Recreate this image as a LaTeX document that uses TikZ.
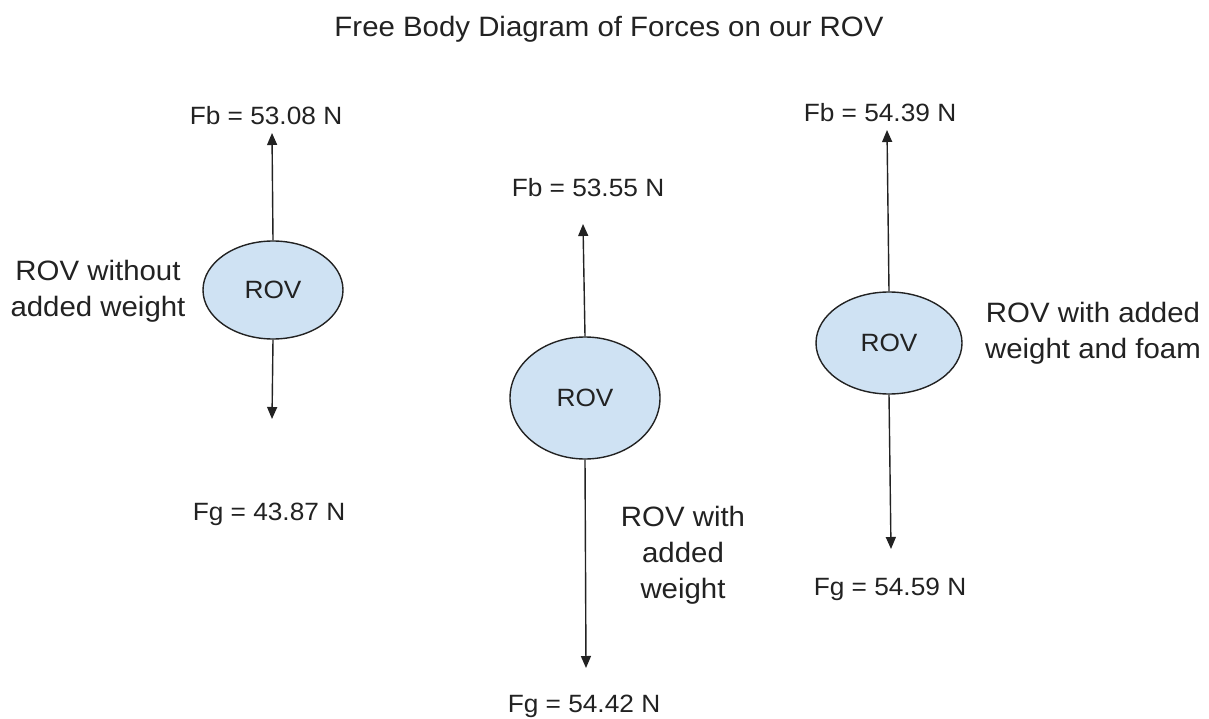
\documentclass[tikz,border=0pt]{standalone}
\usepackage{fontspec}
\setmainfont[FakeStretch=1.05]{Liberation Sans}
\usetikzlibrary{arrows.meta,shapes.geometric}
\definecolor{rovfill}{HTML}{CFE2F3}
\definecolor{ink}{HTML}{222222}
\tikzset{
  rov/.style={ellipse, draw=ink, line width=1.4pt, fill=rovfill, inner sep=0pt, font=\fontsize{25}{28}\selectfont, text=ink},
  force/.style={draw=ink, line width=1.4pt, -{Triangle[length=12pt,width=10pt]}},
  flabel/.style={font=\fontsize{25}{30}\selectfont, text=ink, inner sep=0pt},
  side/.style={font=\fontsize{28}{36}\selectfont, text=ink, align=center, inner sep=0pt},
}
\begin{document}
\begin{tikzpicture}[x=1pt,y=-1pt]
\useasboundingbox (0,0) rectangle (1209,719);
\node[font=\fontsize{28}{32}\selectfont, text=ink, inner sep=0pt] (title) at (609,29) {Free Body Diagram of Forces on our ROV};

% ROV 1
\node[rov, minimum width=140pt, minimum height=98pt] (r1) at (273,290) {ROV};
\coordinate (u1) at (272,133);
\coordinate (d1) at (272,419);
\draw[force] (r1.north) -- (u1);
\draw[force] (r1.south) -- (d1);
\node[flabel] (fb1) at (266,116) {Fb = 53.08 N};
\node[flabel] (fg1) at (269,514) {Fg = 43.87 N};
\node[side] (s1) at (98,291) {ROV without\\added weight};

% ROV 2
\node[rov, minimum width=150pt, minimum height=122pt] (r2) at (585,398) {ROV};
\coordinate (u2) at (583,224);
\coordinate (d2) at (586,668);
\draw[force] (r2.north) -- (u2);
\draw[force] (r2.south) -- (d2);
\node[flabel] (fb2) at (588,188) {Fb = 53.55 N};
\node[flabel] (fg2) at (584,706) {Fg = 54.42 N};
\node[side] (s2) at (683,555) {ROV with\\added\\weight};

% ROV 3
\node[rov, minimum width=146pt, minimum height=102pt] (r3) at (889,343) {ROV};
\coordinate (u3) at (887,130);
\coordinate (d3) at (891,549);
\draw[force] (r3.north) -- (u3);
\draw[force] (r3.south) -- (d3);
\node[flabel] (fb3) at (880,113) {Fb = 54.39 N};
\node[flabel] (fg3) at (890,589) {Fg = 54.59 N};
\node[side] (s3) at (1093,333) {ROV with added\\weight and foam};
\end{tikzpicture}
\end{document}
